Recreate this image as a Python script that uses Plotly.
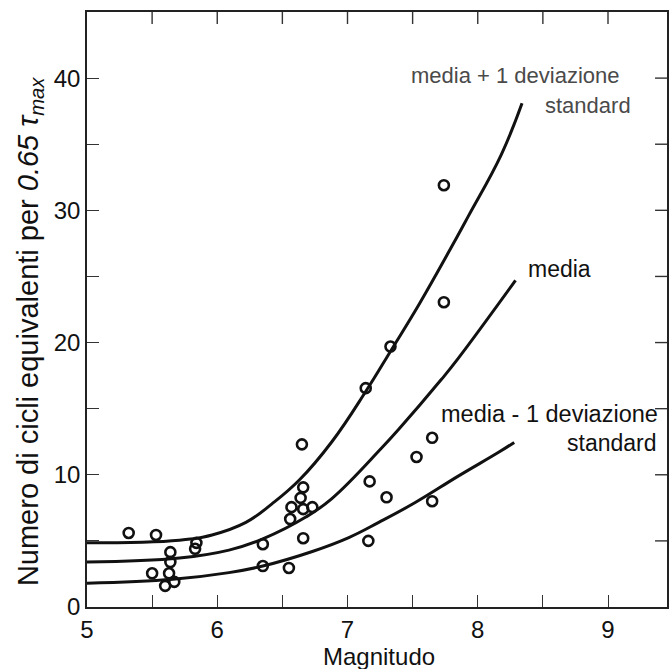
import plotly.graph_objects as go

# Observed data points (Magnitudo, numero di cicli)
pts_x = [5.32, 5.53, 5.64, 5.64, 5.63, 5.50, 5.60, 5.67, 5.84, 5.83,
         6.65, 6.66, 6.64, 6.57, 6.73, 6.66, 6.56, 6.35, 6.66, 6.35, 6.55,
         7.33, 7.14, 7.65, 7.53, 7.17, 7.30, 7.65, 7.74, 7.74, 7.16]
pts_y = [5.6, 5.45, 4.15, 3.4, 2.55, 2.55, 1.6, 1.9, 4.85, 4.4,
         12.3, 9.05, 8.25, 7.55, 7.55, 7.4, 6.65, 4.75, 5.2, 3.1, 2.95,
         19.7, 16.55, 12.8, 11.35, 9.5, 8.3, 8.0, 31.9, 23.05, 5.0]

# Curves
up_x = [5.0, 5.71, 5.96, 6.22, 6.42, 6.63, 6.88, 7.14, 7.34, 7.55, 7.78, 7.93, 8.18, 8.34]
up_y = [4.85, 5.05, 5.45, 6.4, 7.8, 9.6, 12.5, 16.3, 19.5, 22.9, 26.9, 29.6, 34.2, 38.1]

mid_x = [5.0, 5.71, 6.09, 6.35, 6.68, 6.88, 7.26, 7.39, 7.72, 7.85, 8.29]
mid_y = [3.4, 3.7, 4.3, 5.15, 6.8, 8.2, 12.0, 13.4, 17.2, 18.8, 24.7]

low_x = [5.0, 5.66, 6.09, 6.35, 6.73, 7.01, 7.24, 7.52, 7.85, 8.16, 8.28]
low_y = [1.8, 2.1, 2.6, 3.1, 4.2, 5.25, 6.4, 7.9, 9.9, 11.7, 12.45]

# Tick positions (major labelled, minor every half step)
x_major = 1
x_minor = 0.5
y_major = 10
y_minor = 5
x_minor_vals = [5.5, 6, 6.5, 7, 7.5, 8, 8.5, 9]
y_minor_vals = [5, 10, 15, 20, 25, 30, 35, 40]
x_range = [5, 9.453]
y_range = [0, 45]

FONT = "Liberation Sans, Arial, sans-serif"
W, H = 669, 669
ML, MR, MT, MB = 87, 0, 12, 62
TICKLEN = 12

fig = go.Figure()
for cx, cy in [(up_x, up_y), (mid_x, mid_y), (low_x, low_y)]:
    fig.add_trace(go.Scatter(x=cx, y=cy, mode="lines",
                             line=dict(color="#111", width=3, shape="spline", smoothing=1.2),
                             showlegend=False, hoverinfo="skip"))
fig.add_trace(go.Scatter(x=pts_x, y=pts_y, mode="markers",
                         marker=dict(symbol="circle-open", size=10, color="#111",
                                     line=dict(width=2.6, color="#111")),
                         showlegend=False))

annots = [
    ("media + 1 deviazione", 7.47, 40.2, "#4a4a4a", 22),
    ("standard", 8.50, 37.9, "#4a4a4a", 22),
    ("media", 8.37, 25.6, "#111", 23),
    ("media - 1 deviazione", 7.70, 14.6, "#111", 23.5),
    ("standard", 8.67, 12.4, "#111", 23),
]
for t, ax, ay, col, fs in annots:
    fig.add_annotation(x=ax, y=ay, text=t, showarrow=False, xanchor="left",
                       yanchor="middle", font=dict(size=fs, color=col, family=FONT))

fig.add_annotation(xref="paper", yref="paper", x=0.503, y=0, yanchor="top", yshift=-34,
                   text="Magnitudo", showarrow=False,
                   font=dict(size=24, color="#111", family=FONT))
fig.add_annotation(xref="paper", yref="paper", x=0, y=0.462, xanchor="center", xshift=-57,
                   textangle=-90, showarrow=False,
                   text="Numero di cicli equivalenti per <i>0.65 τ<sub>max</sub></i>",
                   font=dict(size=29, color="#111", family=FONT))

tick_style = dict(ticks="inside", ticklen=TICKLEN, tickwidth=1.4, tickcolor="#333")
axis_common = dict(showgrid=False, zeroline=False, showline=True, linecolor="#222",
                   linewidth=1.6, mirror=True, **tick_style,
                   tickfont=dict(size=24, color="#111", family=FONT))
fig.update_xaxes(range=x_range, tick0=5, dtick=x_major,
                 minor=dict(dtick=x_minor, showgrid=False, **tick_style), **axis_common)
fig.update_yaxes(range=y_range, tick0=0, dtick=y_major,
                 minor=dict(dtick=y_minor, showgrid=False, **tick_style), **axis_common)

# mirrored inward ticks on the top and right frame edges
plot_w = W - ML - MR
plot_h = H - MT - MB
for v in x_minor_vals:
    fig.add_shape(type="line", xref="x", yref="paper", x0=v, x1=v,
                  y0=1, y1=1 - TICKLEN / plot_h, line=dict(color="#333", width=1.4))
for v in y_minor_vals:
    fig.add_shape(type="line", xref="paper", yref="y", x0=1, x1=1 - TICKLEN / plot_w,
                  y0=v, y1=v, line=dict(color="#333", width=1.4))

fig.update_layout(width=W, height=H, margin=dict(l=ML, r=MR, t=MT, b=MB),
                  paper_bgcolor="white", plot_bgcolor="white",
                  font=dict(family=FONT))
fig.write_html("out.html", config={"displayModeBar": False},
               post_script="document.body.style.margin='0px';document.body.style.overflow='hidden';")
